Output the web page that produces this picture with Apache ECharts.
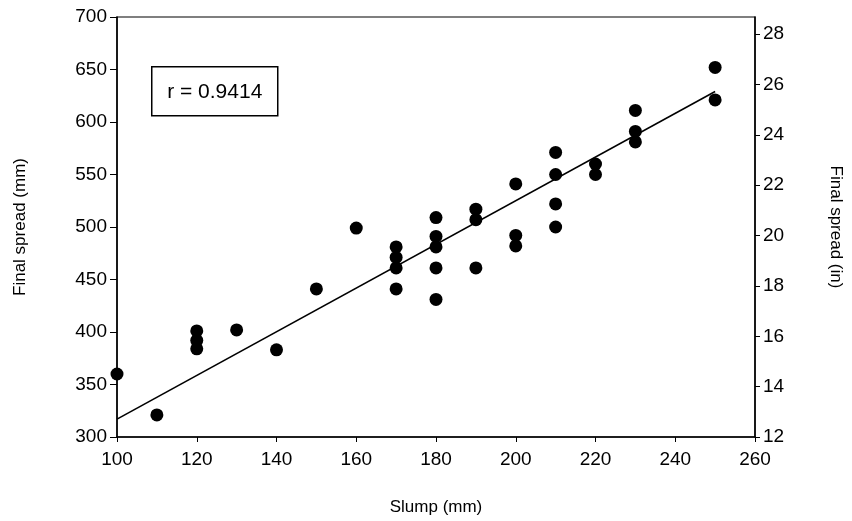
<!DOCTYPE html>
<html>
<head>
<meta charset="utf-8">
<script src="https://cdn.jsdelivr.net/npm/echarts@6/dist/echarts.min.js"></script>
<style>
  html, body { margin: 0; padding: 0; background: #fff; }
  #main { width: 852px; height: 521px; }
</style>
</head>
<body>
<div id="main"></div>
<script>
// slump (mm) vs final spread (mm)
var slump = [100, 110, 120, 120, 120, 130, 140, 150, 160, 170, 170, 170, 170,
             180, 180, 180, 180, 180, 190, 190, 190, 200, 200, 200,
             210, 210, 210, 210, 220, 220, 230, 230, 230, 250, 250];
var spread = [360, 321, 401, 392, 384, 402, 383, 441, 499, 481, 471, 461, 441,
              509, 491, 481, 461, 431, 517, 507, 461, 541, 492, 482,
              571, 550, 522, 500, 560, 550, 611, 591, 581, 652, 621];

// regression line end points
var fitX = [100, 250];
var fitY = [317, 629];

var rText = 'r = 0.9414';

var points = slump.map(function (s, i) { return [s, spread[i]]; });
var fitLine = fitX.map(function (x, i) { return [x, fitY[i]]; });

var font = 'Liberation Sans, Arial, sans-serif';
var labelStyle = { color: '#000', fontSize: 19, fontFamily: font };

var myChart = echarts.init(document.getElementById('main'));

myChart.setOption({
  animation: false,
  backgroundColor: '#fff',
  grid: {
    left: 117, right: 94, top: 17, bottom: 81,
    show: true, borderColor: '#000', borderWidth: 1.2
  },
  xAxis: {
    type: 'value',
    min: 100, max: 260, interval: 20,
    name: 'Slump (mm)',
    nameLocation: 'middle',
    nameGap: 62,
    nameTextStyle: { color: '#000', fontSize: 17, fontFamily: font },
    axisLine: { lineStyle: { color: '#000', width: 1.5 } },
    axisTick: { inside: false, lineStyle: { color: '#000' }, length: 5 },
    axisLabel: Object.assign({ margin: 13 }, labelStyle),
    splitLine: { show: false }
  },
  yAxis: [
    {
      type: 'value',
      min: 300, max: 700, interval: 50,
      name: 'Final spread (mm)',
      nameLocation: 'middle',
      nameGap: 88,
      nameTextStyle: { color: '#000', fontSize: 17, fontFamily: font },
      axisLine: { show: true, lineStyle: { color: '#000', width: 1.5 } },
      axisTick: { show: true, inside: false, lineStyle: { color: '#000' }, length: 7 },
      axisLabel: Object.assign({ margin: 10 }, labelStyle),
      splitLine: { show: false }
    },
    {
      type: 'value',
      position: 'right',
      min: 12, max: 28.68, interval: 2,
      name: 'Final spread (in)',
      nameLocation: 'middle',
      nameRotate: -90,
      nameGap: 72,
      nameTextStyle: { color: '#000', fontSize: 17, fontFamily: font },
      axisLine: { show: true, lineStyle: { color: '#000', width: 1.5 } },
      axisTick: { show: true, inside: false, lineStyle: { color: '#000' }, length: 5 },
      axisLabel: Object.assign({ margin: 8, showMaxLabel: false }, labelStyle),
      splitLine: { show: false }
    }
  ],
  series: [
    {
      type: 'line',
      data: fitLine,
      showSymbol: false,
      lineStyle: { color: '#000', width: 1.6 },
      z: 1
    },
    {
      type: 'scatter',
      data: points,
      symbol: 'circle',
      symbolSize: 13,
      itemStyle: { color: '#000', opacity: 1 },
      z: 2
    }
  ],
  graphic: [
    {
      type: 'group',
      left: 151, top: 66,
      children: [
        {
          type: 'rect',
          shape: { x: 0, y: 0, width: 126, height: 49 },
          style: { fill: '#fff', stroke: '#000', lineWidth: 1.5 }
        },
        {
          type: 'text',
          x: 63, y: 25,
          style: {
            text: rText, fill: '#000', fontSize: 21, fontFamily: font,
            align: 'center', verticalAlign: 'middle'
          }
        }
      ]
    }
  ]
});
</script>
</body>
</html>
